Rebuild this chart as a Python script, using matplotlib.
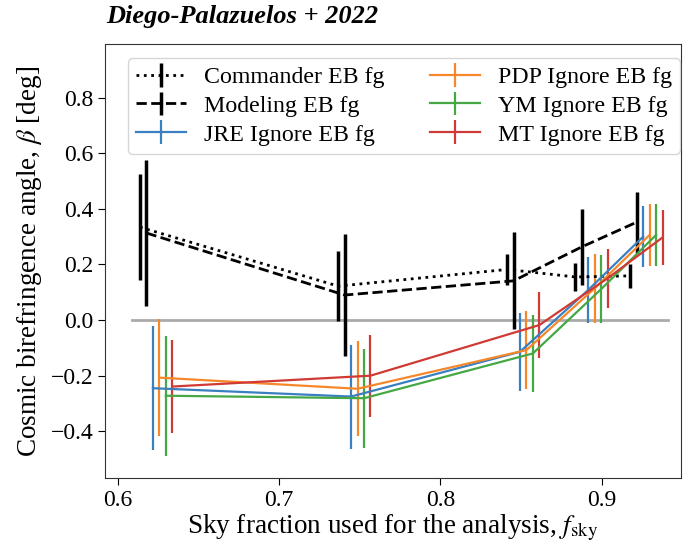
import matplotlib
matplotlib.use("Agg")
import matplotlib.pyplot as plt
import numpy as np

plt.rcParams['font.family'] = ['Liberation Serif', 'DejaVu Serif']
plt.rcParams['mathtext.fontset'] = 'stix'

# sky fractions of the five masks (position of the first series in each group)
fsky = [0.6137, 0.7366, 0.8413, 0.8836, 0.9177]

labels = ["Commander EB fg", "Modeling EB fg", "JRE Ignore EB fg",
          "PDP Ignore EB fg", "YM Ignore EB fg", "MT Ignore EB fg"]

commander = [0.334, 0.122, 0.182, 0.155, 0.159]
commander_err = [0.191, 0.125, 0.057, 0.049, 0.043]

modeling = [0.313, 0.090, 0.141, 0.263, 0.352]
modeling_err = [0.264, 0.218, 0.174, 0.138, 0.110]

jre = [-0.245, -0.275, -0.114, 0.108, 0.300]
jre_err = [0.222, 0.187, 0.140, 0.120, 0.109]

pdp = [-0.207, -0.247, -0.108, 0.114, 0.306]
pdp_err = [0.210, 0.171, 0.140, 0.125, 0.110]

ym = [-0.272, -0.281, -0.120, 0.111, 0.306]
ym_err = [0.216, 0.178, 0.137, 0.122, 0.110]

mt = [-0.239, -0.200, -0.018, 0.150, 0.297]
mt_err = [0.167, 0.148, 0.119, 0.107, 0.100]

zero_line_x = [0.6087, 0.9408]

fig = plt.figure(figsize=(6.92, 5.42), dpi=100)
ax = fig.add_axes([0.1522, 0.118, 0.832, 0.800])

step = 0.0040
x = np.array(fsky)

ax.plot(zero_line_x, [0, 0], color='#aaaaaa', lw=2, zorder=1)

ax.errorbar(x, commander, yerr=commander_err, color='black', ls=':', lw=2,
            elinewidth=2.5, capsize=0, label=labels[0])
ax.errorbar(x + step, modeling, yerr=modeling_err, color='black', ls='--', lw=2,
            elinewidth=2.5, capsize=0, label=labels[1])

series = [(jre, jre_err, '#3a7fc0'), (pdp, pdp_err, '#f6872a'),
          (ym, ym_err, '#45a844'), (mt, mt_err, '#d03a34')]
for i, (v, e, c) in enumerate(series):
    ax.errorbar(x + step * (i + 2), v, yerr=e, color=c, lw=1.6,
                elinewidth=1.6, capsize=0, label=labels[i + 2])

ax.set_xlim(0.5922, 0.9492)
ax.set_ylim(-0.568, 0.991)
ax.set_xticks([0.6, 0.7, 0.8, 0.9])
ax.set_yticks([-0.4, -0.2, 0.0, 0.2, 0.4, 0.6, 0.8])
ax.tick_params(labelsize=17, length=5)
for s in ax.spines.values():
    s.set_color('#333333')

ax.set_xlabel(r"Sky fraction used for the analysis, $f_{\rm sky}$", fontsize=19.5,
              labelpad=1)
ax.set_ylabel(r"Cosmic birefringence angle, $\beta$ [deg]", fontsize=19.5,
              labelpad=5)

ax.legend(loc='upper left', ncol=2, fontsize=17.2, bbox_to_anchor=(0.039, 0.969),
          columnspacing=1.9, handlelength=2.1, handletextpad=0.74,
          borderaxespad=0.0, labelspacing=0.3, borderpad=0.35)

fig.text(0.153, 0.970, "Diego-Palazuelos + 2022", fontsize=19,
         fontweight='bold', fontstyle='italic', ha='left', va='center')

fig.savefig("out.png", dpi=100)
